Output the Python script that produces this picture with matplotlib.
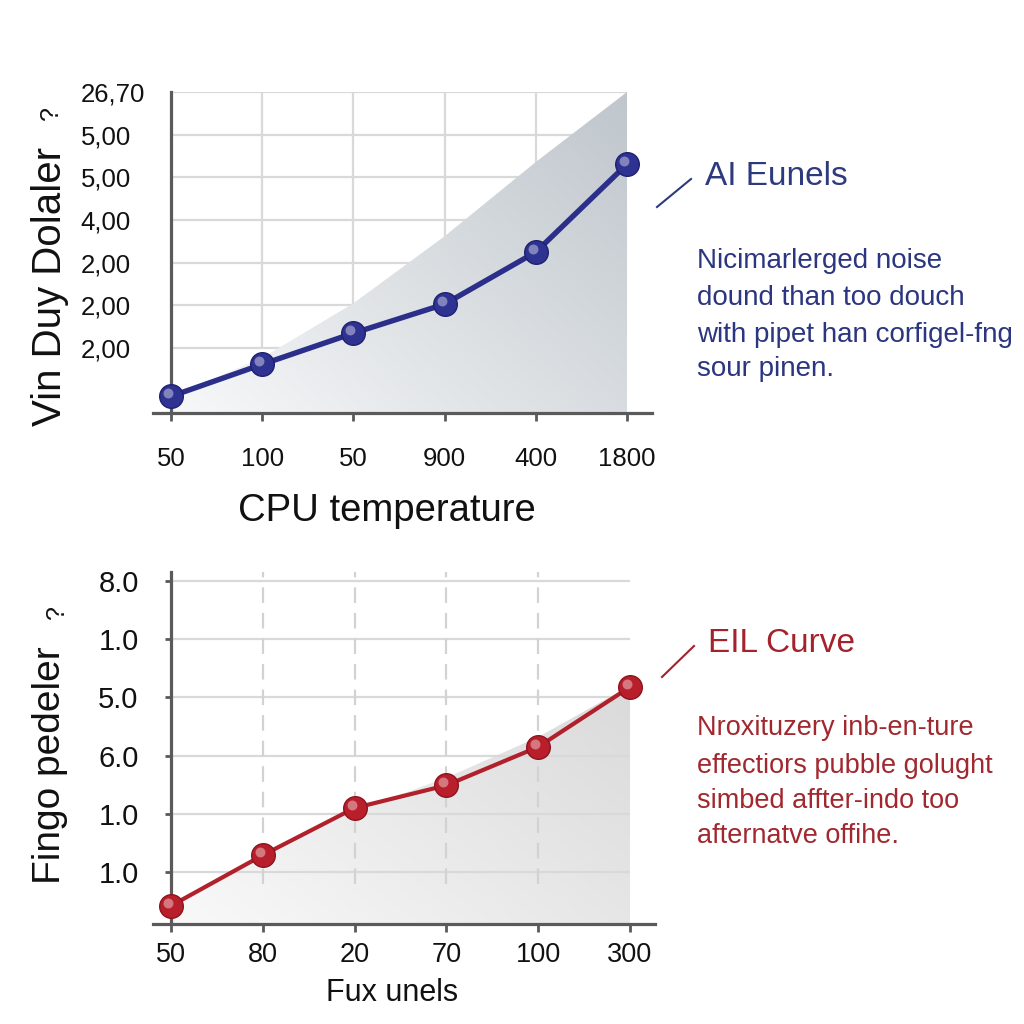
import numpy as np
import matplotlib
matplotlib.use("Agg")
import matplotlib.pyplot as plt
from matplotlib.colors import LinearSegmentedColormap
from matplotlib.patches import Polygon
from matplotlib.lines import Line2D
import matplotlib.transforms as mtransforms

plt.rcParams['font.family'] = ['Liberation Sans', 'DejaVu Sans']

# ---------------- data ----------------
categories = [0, 1, 2, 3, 4, 5]

top_x_labels = ["50", "100", "50", "900", "400", "1800"]
top_y_ticks = [0, 1, 2, 3, 4, 5, 6]
top_y_labels = ["2,00", "2,00", "2,00", "4,00", "5,00", "5,00", "26,70"]
top_values = [-1.13, -0.38, 0.35, 1.03, 2.25, 4.31]
top_shade = [-1.13, -0.23, 1.05, 2.62, 4.36, 6.0]

bot_x_labels = ["50", "80", "20", "70", "100", "300"]
bot_y_ticks = [0, 1, 2, 3, 4, 5]
bot_y_labels = ["1.0", "1.0", "6.0", "5.0", "1.0", "8.0"]
bot_values = [-0.58, 0.29, 1.10, 1.49, 2.15, 3.18]
bot_shade = [-0.58, 0.24, 1.05, 1.62, 2.32, 3.20]

top_note = ["Nicimarlerged noise", "dound than too douch",
            "with pipet han corfigel-fng", "sour pinen."]
bot_note = ["Nroxituzery inb-en-ture", "effectiors pubble golught",
            "simbed affter-indo too", "afternatve offihe."]

# ---------------- styles ----------------
W = 1024
NAVY = "#2b2f8a"
RED = "#b0212b"
SPINE = "#5a5a5a"
GRID = "#d9d9d9"

fig = plt.figure(figsize=(10.24, 10.24), dpi=100)
fig.patch.set_facecolor("white")


def px_axes(l, t, r, b):
    return fig.add_axes([l / W, 1 - b / W, (r - l) / W, (b - t) / W])


def fx(x):
    return x / W


def fy(y):
    return 1 - y / W


def gradient_fill(ax, x, upper, ybottom, c_light, c_dark, z, wx=0.55, wy=0.45):
    verts = [(x[0], ybottom)] + list(zip(x, upper)) + [(x[-1], ybottom)]
    poly = Polygon(verts, closed=True, facecolor='none', edgecolor='none')
    ax.add_patch(poly)
    xx = np.linspace(0, 1, 256)
    X, Y = np.meshgrid(xx, xx)
    Z = wx * X + wy * Y
    cmap = LinearSegmentedColormap.from_list('g', [c_light, c_dark])
    im = ax.imshow(Z, cmap=cmap, extent=[x[0], x[-1], ybottom, max(upper)],
                   origin='lower', aspect='auto', zorder=z, interpolation='bilinear')
    im.set_clip_path(poly)


def spheres(ax, x, y, color, edge, ms):
    ax.plot(x, y, 'o', ms=ms, mfc=color, mec=edge, mew=1.0, zorder=5)
    off = mtransforms.offset_copy(ax.transData, fig=fig, x=-2.2, y=2.2, units='points')
    ax.plot(x, y, 'o', ms=ms * 0.42, mfc='white', mec='none', alpha=0.4,
            transform=off, zorder=6)


def style_axes(ax):
    for s in ['top', 'right']:
        ax.spines[s].set_visible(False)
    for s in ['left', 'bottom']:
        ax.spines[s].set_color(SPINE)
        ax.spines[s].set_linewidth(2.3)
    ax.spines['left'].set_position(('data', 0))
    ax.set_facecolor('none')


# ---------------- top panel ----------------
ax1 = px_axes(153, 92, 652, 413)
style_axes(ax1)
ylo1 = -1.52
ax1.hlines(top_y_ticks, 0, 5, color=GRID, lw=1.6, zorder=1)
ax1.vlines([1, 2, 3, 4], 0, 6, color=GRID, lw=1.6, zorder=1)
gradient_fill(ax1, categories, top_shade, ylo1, "#f7f8f9", "#bfc6cc", z=2)
ax1.plot(categories, top_values, '-', color=NAVY, lw=3.9, zorder=4,
         solid_capstyle='round')
spheres(ax1, categories, top_values, "#2e3290", "#1e2170", 17)
ax1.set_xlim(-0.197, 5.274)
ax1.set_ylim(ylo1, 6.0)
ax1.set_xticks(categories)
ax1.set_xticklabels(top_x_labels, fontsize=18.5, color="#111111")
ax1.set_yticks(top_y_ticks)
ax1.set_yticklabels(top_y_labels, fontsize=18.5, color="#111111")
for lbl in ax1.get_yticklabels():
    lbl.set_horizontalalignment('left')
ax1.tick_params(axis='x', direction='out', length=5.8, width=2.0, color=SPINE, pad=19)
ax1.tick_params(axis='y', length=0, pad=65)

fig.text(fx(387), fy(521), "CPU temperature", fontsize=27.5, ha='center',
         va='baseline', color="#111111")
fig.text(fx(50), fy(286), "Vin Duy Dolaler", fontsize=29, rotation=90,
         ha='center', va='center', color="#111111")
fig.text(fx(51), fy(113), "?", fontsize=18, rotation=90, ha='center',
         va='center', color="#111111")

fig.text(fx(705), fy(185), "AI Eunels", fontsize=24, color="#2e3a7e",
         va='baseline', ha='left')
for line, yb in zip(top_note, [268, 305, 342, 376]):
    fig.text(fx(697), fy(yb), line, fontsize=20, color="#2b3580",
             va='baseline', ha='left')
fig.add_artist(Line2D([fx(657), fx(691)], [fy(207), fy(179)], color="#2e3a7e",
                      lw=1.5, transform=fig.transFigure))

# ---------------- bottom panel ----------------
ax2 = px_axes(153, 572, 655, 924)
style_axes(ax2)
ylo2 = -0.893
gradient_fill(ax2, categories, bot_shade, ylo2, "#f9f9f9", "#dadada", z=1,
              wx=0.6, wy=0.4)
ax2.hlines(bot_y_ticks, 0, 5, color=GRID, lw=1.6, zorder=1.5)
ax2.vlines([1, 2, 3, 4], -0.2, 5.155, color="#d2d2d2", lw=1.6, zorder=1.5,
           linestyles=[(0, (7, 4.5))])
ax2.plot(categories, bot_values, '-', color=RED, lw=3.0, zorder=4,
         solid_capstyle='round')
spheres(ax2, categories, bot_values, "#b81f2b", "#8a1520", 17)
ax2.set_xlim(-0.196, 5.272)
ax2.set_ylim(ylo2, 5.155)
ax2.set_xticks(categories)
ax2.set_xticklabels(bot_x_labels, fontsize=19.5, color="#111111")
ax2.set_yticks(bot_y_ticks)
ax2.set_yticklabels(bot_y_labels, fontsize=21, color="#111111")
ax2.tick_params(axis='x', direction='out', length=5.8, width=2.0, color=SPINE, pad=7)
ax2.tick_params(axis='y', direction='out', length=4.3, width=2.0, color=SPINE, pad=19)

fig.text(fx(392), fy(1001), "Fux unels", fontsize=22, ha='center',
         va='baseline', color="#111111")
fig.text(fx(50), fy(765), "Fingo pedeler", fontsize=28, rotation=90,
         ha='center', va='center', color="#111111")
fig.text(fx(57), fy(612), "?", fontsize=18, rotation=90, ha='center',
         va='center', color="#111111")

fig.text(fx(708), fy(652), "EIL Curve", fontsize=24, color="#a3222c",
         va='baseline', ha='left')
for line, yb in zip(bot_note, [735, 773, 808, 843]):
    fig.text(fx(697), fy(yb), line, fontsize=19.5, color="#a0282e",
             va='baseline', ha='left')
fig.add_artist(Line2D([fx(662), fx(694)], [fy(677), fy(646)], color="#a3222c",
                      lw=1.5, transform=fig.transFigure))

fig.savefig("out.png", dpi=100, facecolor="white")
